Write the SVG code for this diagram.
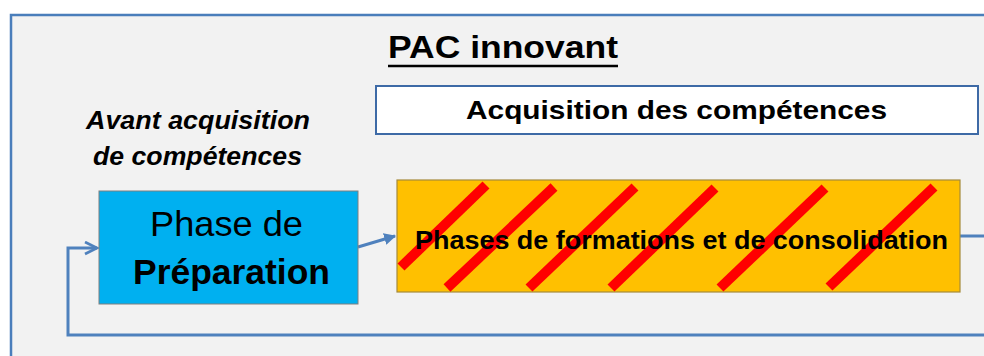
<svg xmlns="http://www.w3.org/2000/svg" width="984" height="356" viewBox="0 0 984 356">
<style>
  text { font-family: "Liberation Sans", Arial, sans-serif; fill: #000; }
  .b { font-weight: bold; }
  .conn { fill: none; stroke: #4f81bd; stroke-width: 3; }
  .stripe { stroke: #ff0000; stroke-width: 10; stroke-linecap: butt; }
</style>
<defs>
  <marker id="open" viewBox="0 0 10 10" refX="9" refY="5" markerWidth="5" markerHeight="5" orient="auto" markerUnits="strokeWidth">
    <path d="M1,1 L9,5 L1,9" fill="none" stroke="#4f81bd" stroke-width="1.8"/>
  </marker>
  <marker id="fill" viewBox="0 0 10 10" refX="9" refY="5" markerWidth="4" markerHeight="4" orient="auto" markerUnits="strokeWidth">
    <path d="M0,0 L10,5 L0,10 z" fill="#4f81bd"/>
  </marker>
</defs>
<rect x="0" y="0" width="984" height="356" fill="#ffffff"/>
<rect id="frame" x="11" y="15" width="990" height="360" fill="#f2f2f2" stroke="#4a7ebb" stroke-width="2.5"/>

<g id="title">
  <text class="b" x="388" y="58" font-size="31" textLength="230" lengthAdjust="spacingAndGlyphs">PAC innovant</text>
  <line x1="388" y1="66" x2="618" y2="66" stroke="#000" stroke-width="2.5"/>
</g>

<g id="avant">
  <text class="b" font-style="italic" x="86" y="129" font-size="25" textLength="224" lengthAdjust="spacingAndGlyphs">Avant acquisition</text>
  <text class="b" font-style="italic" x="93" y="165" font-size="25" textLength="209" lengthAdjust="spacingAndGlyphs">de compétences</text>
</g>

<g id="acquisition">
  <rect x="376" y="86" width="602" height="48" fill="#ffffff" stroke="#3e6aa6" stroke-width="2"/>
  <text class="b" x="466" y="119" font-size="26" textLength="421" lengthAdjust="spacingAndGlyphs">Acquisition des compétences</text>
</g>

<g id="connectors">
  <path class="conn" d="M984,335 L68,335 L68,248 L97,248" marker-end="url(#open)"/>
  <path class="conn" d="M358,247 L395,236" marker-end="url(#fill)"/>
  <path class="conn" d="M960,236 L984,236"/>
</g>

<g id="preparation">
  <rect x="99" y="191" width="259" height="113" fill="#00b0f0" stroke="#7f7f7f" stroke-width="1"/>
  <text x="150" y="236" font-size="35" textLength="153" lengthAdjust="spacingAndGlyphs">Phase de</text>
  <text class="b" x="133" y="284" font-size="35" textLength="197" lengthAdjust="spacingAndGlyphs">Préparation</text>
</g>

<g id="formations">
  <rect x="397" y="180" width="563" height="112" fill="#ffc000" stroke="#a68a3a" stroke-width="1.2"/>
  <line class="stripe" x1="401" y1="267" x2="486" y2="185"/>
  <line class="stripe" x1="447" y1="288" x2="554" y2="187"/>
  <line class="stripe" x1="529" y1="288" x2="635" y2="187"/>
  <line class="stripe" x1="611" y1="288" x2="715" y2="188"/>
  <line class="stripe" x1="720" y1="288" x2="825" y2="188"/>
  <line class="stripe" x1="829" y1="287" x2="934" y2="187"/>
  <text class="b" x="415" y="249" font-size="25" textLength="533" lengthAdjust="spacingAndGlyphs">Phases de formations et de consolidation</text>
</g>
</svg>
